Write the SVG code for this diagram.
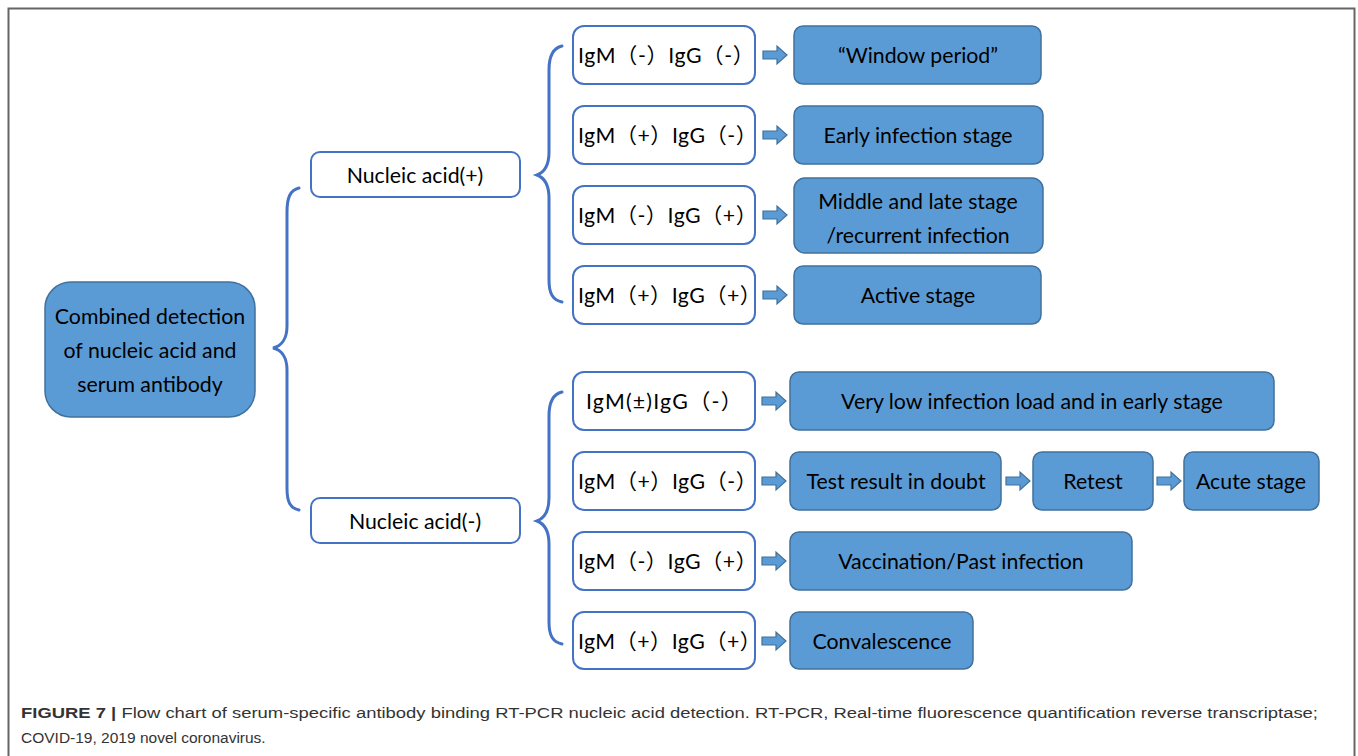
<svg xmlns="http://www.w3.org/2000/svg" width="1358" height="756" viewBox="0 0 1358 756">
<style>
.bg{fill:#ffffff}
.frame{fill:none;stroke:#666;stroke-width:2}
.blue{fill:#5b9bd5;stroke:#41719c;stroke-width:1.5}
.white{fill:#ffffff;stroke:#4472c4;stroke-width:2}
.brace{fill:none;stroke:#4472c4;stroke-width:3;stroke-linecap:round}
.arrow{fill:#5b9bd5;stroke:#41719c;stroke-width:1.2}
.t{font-family:Lato,"Noto Sans CJK SC",sans-serif;font-size:21.3px;fill:#000;dominant-baseline:central}
.c{text-anchor:middle}
.cap{font-family:"Liberation Sans",Arial,sans-serif;font-size:15.5px;fill:#333}
</style>
<defs>
<path id="arr" class="arrow" d="M0,-4 H14 V-9 L24,0 L14,9 V4 H0 Z"/>
</defs>
<rect class="bg" x="0" y="0" width="1358" height="756"/>
<path class="frame" d="M8.5,756 V8.5 H1354.5 V756"/>

<g id="connectors">
<path class="brace" d="M299,188 C290,190 287,198 287,212 V326 C287,338 282,346 273,348 C282,350 287,358 287,370 V488 C287,502 290,508 299,510"/>
<path class="brace" d="M562,46 C553,48 549,56 549,70 V152 C549,165 545,172 537,175 C545,178 549,185 549,198 V280 C549,294 553,300 562,302"/>
<path class="brace" d="M562,392 C553,394 549,402 549,416 V498 C549,511 545,518 537,521 C545,524 549,531 549,544 V622 C549,636 553,642 562,644"/>
<use href="#arr" x="763" y="55"/>
<use href="#arr" x="763" y="135"/>
<use href="#arr" x="763" y="215"/>
<use href="#arr" x="763" y="295"/>
<use href="#arr" x="762" y="401"/>
<use href="#arr" x="762" y="481"/>
<use href="#arr" x="1006" y="481"/>
<use href="#arr" x="1157" y="481"/>
<use href="#arr" x="762" y="561"/>
<use href="#arr" x="762" y="641"/>
</g>

<g id="root"><rect class="blue" x="45" y="282" width="210" height="135" rx="26"/>
<text class="t c" x="150" y="316">Combined detection</text>
<text class="t c" x="150" y="350">of nucleic acid and</text>
<text class="t c" x="150" y="384">serum antibody</text></g>

<g id="na-pos"><rect class="white" x="311" y="152" width="209" height="45" rx="9"/><text class="t c" x="415" y="175">Nucleic acid(+)</text></g>
<g id="na-neg"><rect class="white" x="311" y="498" width="209" height="45" rx="9"/><text class="t c" x="415" y="521">Nucleic acid(-)</text></g>

<g id="p1"><rect class="white" x="573" y="26" width="182" height="58" rx="11"/><text class="t" x="578" y="55" textLength="176" lengthAdjust="spacing">IgM（-）IgG（-）</text></g>
<g id="p2"><rect class="white" x="573" y="106" width="182" height="58" rx="11"/><text class="t" x="578" y="135" textLength="179" lengthAdjust="spacing">IgM（+）IgG（-）</text></g>
<g id="p3"><rect class="white" x="573" y="186" width="182" height="58" rx="11"/><text class="t" x="578" y="215" textLength="179" lengthAdjust="spacing">IgM（-）IgG（+）</text></g>
<g id="p4"><rect class="white" x="573" y="266" width="182" height="58" rx="11"/><text class="t" x="578" y="295" textLength="183" lengthAdjust="spacing">IgM（+）IgG（+）</text></g>

<g id="n1"><rect class="white" x="573" y="372" width="182" height="58" rx="11"/><text class="t" x="586" y="401" textLength="156" lengthAdjust="spacing">IgM(±)IgG（-）</text></g>
<g id="n2"><rect class="white" x="573" y="452" width="182" height="58" rx="11"/><text class="t" x="578" y="481" textLength="179" lengthAdjust="spacing">IgM（+）IgG（-）</text></g>
<g id="n3"><rect class="white" x="573" y="532" width="182" height="58" rx="11"/><text class="t" x="578" y="561" textLength="179" lengthAdjust="spacing">IgM（-）IgG（+）</text></g>
<g id="n4"><rect class="white" x="573" y="612" width="182" height="57" rx="11"/><text class="t" x="578" y="641" textLength="183" lengthAdjust="spacing">IgM（+）IgG（+）</text></g>

<g id="r1"><rect class="blue" x="794" y="26" width="247" height="58" rx="9"/><text class="t c" x="918" y="55">“Window period”</text></g>
<g id="r2"><rect class="blue" x="794" y="106" width="249" height="58" rx="9"/><text class="t c" x="918" y="135">Early infection stage</text></g>
<g id="r3"><rect class="blue" x="794" y="178" width="249" height="75" rx="11"/><text class="t c" x="918" y="201">Middle and late stage</text><text class="t c" x="918" y="235">/recurrent infection</text></g>
<g id="r4"><rect class="blue" x="794" y="266" width="247" height="58" rx="9"/><text class="t c" x="918" y="295">Active stage</text></g>

<g id="s1"><rect class="blue" x="790" y="372" width="484" height="58" rx="9"/><text class="t c" x="1032" y="401">Very low infection load and in early stage</text></g>
<g id="s2"><rect class="blue" x="790" y="452" width="211" height="58" rx="9"/><text class="t c" x="896" y="481">Test result in doubt</text></g>
<g id="s2b"><rect class="blue" x="1033" y="452" width="120" height="58" rx="9"/><text class="t c" x="1093" y="481">Retest</text></g>
<g id="s2c"><rect class="blue" x="1184" y="452" width="135" height="58" rx="9"/><text class="t c" x="1251" y="481">Acute stage</text></g>
<g id="s3"><rect class="blue" x="790" y="532" width="342" height="58" rx="9"/><text class="t c" x="961" y="561">Vaccination/Past infection</text></g>
<g id="s4"><rect class="blue" x="790" y="612" width="183" height="57" rx="9"/><text class="t c" x="882" y="641">Convalescence</text></g>

<g id="caption">
<text class="cap" x="21" y="718" textLength="1297" lengthAdjust="spacingAndGlyphs"><tspan font-weight="bold">FIGURE 7 |</tspan> Flow chart of serum-specific antibody binding RT-PCR nucleic acid detection. RT-PCR, Real-time fluorescence quantification reverse transcriptase;</text>
<text class="cap" x="21" y="743">COVID-19, 2019 novel coronavirus.</text>
</g>
</svg>
